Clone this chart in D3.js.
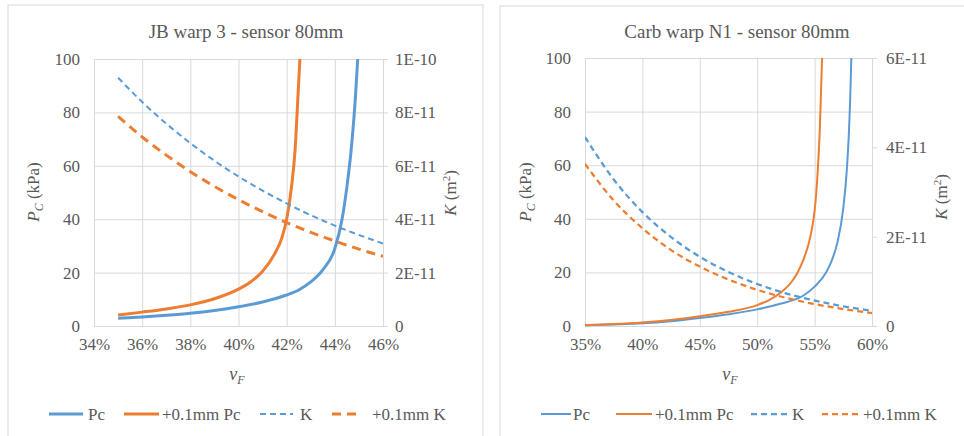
<!DOCTYPE html>
<html>
<head>
<meta charset="utf-8">
<script src="https://cdn.jsdelivr.net/npm/d3@7"></script>
<style>
body { margin: 0; background: #fff; }
svg { display: block; font-family: "Liberation Serif", "Times New Roman", serif; }
</style>
</head>
<body>
<script>
var width = 964;
var height = 436;

// JB warp 3 - [vF %, Pc kPa] and [vF %, K m2]
var jbPc = [[35,2.9],[36,3.4],[37,4.0],[38,4.75],[39,5.8],[40,7.2],[41,9.0],[42,11.6],[42.5,13.5],[43,16.5],[43.5,21],[44,29],[44.3,40],[44.5,52],[44.7,68],[44.85,85],[44.95,100]];
var jbPc01 = [[35,4.1],[36,5.2],[37,6.4],[38,7.9],[39,10.2],[40,13.8],[40.5,16.5],[41,20.5],[41.5,27],[41.8,33],[42,40],[42.2,52],[42.35,66],[42.48,88],[42.55,100]];
var jbK = [[35,9.30e-11],[36,8.39e-11],[37,7.58e-11],[38,6.85e-11],[39,6.19e-11],[40,5.60e-11],[41,5.07e-11],[42,4.59e-11],[43,4.15e-11],[44,3.76e-11],[45,3.41e-11],[46,3.09e-11]];
var jbK01 = [[35,7.85e-11],[36,7.08e-11],[37,6.40e-11],[38,5.78e-11],[39,5.23e-11],[40,4.73e-11],[41,4.28e-11],[42,3.87e-11],[43,3.51e-11],[44,3.18e-11],[45,2.88e-11],[46,2.61e-11]];

// Carb warp N1
var cbPc = [[35,0.3],[37.5,0.6],[40,1.0],[42.5,1.8],[45,3.0],[47.5,4.4],[50,6.2],[52,8.3],[54,11.3],[55,14.7],[56,20],[56.5,24.5],[57,31.4],[57.5,44],[57.8,57.9],[58,73.3],[58.1,84.6],[58.2,100]];
var cbPc01 = [[35,0.3],[37.5,0.7],[40,1.3],[42.5,2.2],[45,3.6],[47.5,5.3],[50,7.8],[51,9.6],[52,12.3],[53,16.5],[53.5,19.8],[54,24.5],[54.5,31],[54.8,37],[55,43],[55.15,50],[55.3,60],[55.45,73],[55.55,86],[55.65,100]];
var cbK = [[35,4.23e-11],[37.5,3.28e-11],[40,2.55e-11],[42.5,1.99e-11],[45,1.55e-11],[47.5,1.21e-11],[50,0.94e-11],[52.5,0.73e-11],[55,0.57e-11],[57.5,0.44e-11],[60,0.34e-11]];
var cbK01 = [[35,3.63e-11],[37.5,2.81e-11],[40,2.19e-11],[42.5,1.70e-11],[45,1.33e-11],[47.5,1.04e-11],[50,0.81e-11],[52.5,0.63e-11],[55,0.49e-11],[57.5,0.38e-11],[60,0.29e-11]];

var jbXTicks = [34,36,38,40,42,44,46];
var cbXTicks = [35,40,45,50,55,60];
var pcTicks = [0,20,40,60,80,100];
var jbKTicks = [0,2e-11,4e-11,6e-11,8e-11,1e-10];
var cbKTicks = [0,2e-11,4e-11,6e-11];
var legendLabels = ['Pc', '+0.1mm Pc', 'K', '+0.1mm K'];

var blue = '#5B9BD5';
var orange = '#ED7D31';
var textColor = '#595959';
var gridColor = '#D9D9D9';

var svg = d3.select('body')
  .append('svg')
  .attr('width', width)
  .attr('height', height);

function fmtE(v) {
  if (v === 0) return '0';
  var e = Math.floor(Math.log10(v) + 1e-9);
  var m = Math.round(v / Math.pow(10, e));
  return m + 'E' + e;
}

function drawChart(c) {
  // panel frame
  svg.append('rect')
    .attr('x', c.panel[0]).attr('y', c.panel[1])
    .attr('width', c.panel[2]).attr('height', c.panel[3])
    .attr('fill', '#fff').attr('stroke', gridColor);

  var x = d3.scaleLinear().domain(c.xDomain).range([c.left, c.right]);
  var y = d3.scaleLinear().domain([0, 100]).range([c.bottom, c.top]);
  var yk = d3.scaleLinear().domain(c.kDomain).range([c.bottom, c.top]);

  var g = svg.append('g');

  // gridlines
  g.append('g')
    .attr('transform', 'translate(0,' + c.bottom + ')')
    .call(d3.axisBottom(x).tickValues(c.xTicks).tickSize(-(c.bottom - c.top)).tickFormat(''))
    .call(function(s) { s.select('.domain').remove(); s.selectAll('line').attr('stroke', gridColor); });
  g.append('g')
    .attr('transform', 'translate(' + c.left + ',0)')
    .call(d3.axisLeft(y).tickValues(pcTicks).tickSize(-(c.right - c.left)).tickFormat(''))
    .call(function(s) { s.select('.domain').remove(); s.selectAll('line').attr('stroke', gridColor); });

  // left axis labels
  g.append('g')
    .attr('transform', 'translate(' + c.left + ',0)')
    .call(d3.axisLeft(y).tickValues(pcTicks).tickSize(0).tickPadding(14))
    .call(function(s) {
      s.select('.domain').remove();
      s.selectAll('text').attr('fill', textColor).attr('font-size', 17).attr('font-family', 'Liberation Serif');
    });

  // bottom axis labels
  g.append('g')
    .attr('transform', 'translate(0,' + c.bottom + ')')
    .call(d3.axisBottom(x).tickValues(c.xTicks).tickSize(0).tickPadding(12).tickFormat(function(d) { return d + '%'; }))
    .call(function(s) {
      s.select('.domain').attr('stroke', gridColor);
      s.selectAll('text').attr('fill', textColor).attr('font-size', 17).attr('font-family', 'Liberation Serif');
    });

  // right axis
  g.append('g')
    .attr('transform', 'translate(' + c.right + ',0)')
    .call(d3.axisRight(yk).tickValues(c.kTicks).tickSize(5).tickPadding(c.kPad).tickFormat(fmtE))
    .call(function(s) {
      s.select('.domain').attr('stroke', gridColor);
      s.selectAll('line').attr('stroke', gridColor);
      s.selectAll('text').attr('fill', textColor).attr('font-size', 17).attr('font-family', 'Liberation Serif');
    });

  // curves
  var clipId = 'clip' + c.id;
  svg.append('clipPath').attr('id', clipId)
    .append('rect').attr('x', c.left).attr('y', c.top - 1)
    .attr('width', c.right - c.left).attr('height', c.bottom - c.top + 2);

  var plot = g.append('g').attr('clip-path', 'url(#' + clipId + ')');
  var linePc = d3.line().x(function(d) { return x(d[0]); }).y(function(d) { return y(d[1]); }).curve(d3.curveMonotoneX);
  var lineK = d3.line().x(function(d) { return x(d[0]); }).y(function(d) { return yk(d[1]); }).curve(d3.curveMonotoneX);

  c.series.forEach(function(s) {
    plot.append('path')
      .datum(s.data)
      .attr('d', s.k ? lineK : linePc)
      .attr('fill', 'none')
      .attr('stroke', s.color)
      .attr('stroke-width', s.w)
      .attr('stroke-dasharray', s.dash || null);
  });

  // title
  svg.append('text')
    .attr('x', c.titleX).attr('y', 38)
    .attr('text-anchor', 'middle')
    .attr('font-size', 19)
    .attr('fill', textColor)
    .text(c.title);

  // y title
  var yt = svg.append('text')
    .attr('transform', 'translate(' + c.yTitleX + ',192) rotate(-90)')
    .attr('text-anchor', 'middle')
    .attr('font-size', 17)
    .attr('fill', textColor);
  yt.append('tspan').attr('font-style', 'italic').text('P');
  yt.append('tspan').attr('font-style', 'italic').attr('font-size', 12).attr('dy', 4).text('C');
  yt.append('tspan').attr('dy', -4).text(' (kPa)');

  // K title
  var kt = svg.append('text')
    .attr('transform', 'translate(' + c.kTitleX + ',' + c.kTitleY + ') rotate(-90)')
    .attr('text-anchor', 'middle')
    .attr('font-size', 17)
    .attr('fill', textColor);
  kt.append('tspan').attr('font-style', 'italic').text('K');
  kt.append('tspan').text(' (m');
  kt.append('tspan').attr('font-size', 11).attr('dy', -6).text('2');
  kt.append('tspan').attr('dy', 6).text(')');

  // x title
  var xt = svg.append('text')
    .attr('x', c.xTitleX).attr('y', 380)
    .attr('text-anchor', 'middle')
    .attr('font-size', 18)
    .attr('fill', textColor)
    .attr('font-style', 'italic');
  xt.append('tspan').text('v');
  xt.append('tspan').attr('font-size', 12).attr('dy', 4).text('F');

  // legend
  var lg = svg.append('g');
  c.series.forEach(function(s, i) {
    var lx = c.legendX[i];
    lg.append('line')
      .attr('x1', lx).attr('x2', lx + c.legendLen[i])
      .attr('y1', 414).attr('y2', 414)
      .attr('stroke', s.color)
      .attr('stroke-width', s.w)
      .attr('stroke-dasharray', s.dash || null);
    lg.append('text')
      .attr('x', c.legendTextX[i]).attr('y', 414)
      .attr('dy', '0.35em')
      .attr('font-size', 17)
      .attr('fill', textColor)
      .text(legendLabels[i]);
  });
}

drawChart({
  id: 'jb',
  panel: [8, 5, 475, 440],
  left: 94, right: 383, top: 59, bottom: 326,
  xDomain: [34, 46], xTicks: jbXTicks,
  kDomain: [0, 1e-10], kTicks: jbKTicks, kPad: 7,
  title: 'JB warp 3 - sensor 80mm', titleX: 246,
  yTitleX: 39, kTitleX: 456, kTitleY: 193, xTitleX: 237,
  legendX: [49, 124, 260, 332], legendLen: [34, 35, 33, 30],
  legendTextX: [88, 162, 300, 372],
  series: [
    {data: jbPc, color: blue, w: 3},
    {data: jbPc01, color: orange, w: 3},
    {data: jbK, color: blue, w: 2, dash: '6,4', k: true},
    {data: jbK01, color: orange, w: 3, dash: '9,6', k: true}
  ]
});

drawChart({
  id: 'cb',
  panel: [500, 6, 470, 440],
  left: 585, right: 872, top: 58, bottom: 326,
  xDomain: [35, 60], xTicks: cbXTicks,
  kDomain: [0, 6e-11], kTicks: cbKTicks, kPad: 9,
  title: 'Carb warp N1 - sensor 80mm', titleX: 737,
  yTitleX: 531, kTitleX: 947, kTitleY: 197, xTitleX: 730,
  legendX: [541, 616, 751, 822], legendLen: [30, 36, 38, 40],
  legendTextX: [573, 655, 792, 863],
  series: [
    {data: cbPc, color: blue, w: 2},
    {data: cbPc01, color: orange, w: 2},
    {data: cbK, color: blue, w: 2.25, dash: '6,4', k: true},
    {data: cbK01, color: orange, w: 2.25, dash: '6,4', k: true}
  ]
});
</script>
</body>
</html>
